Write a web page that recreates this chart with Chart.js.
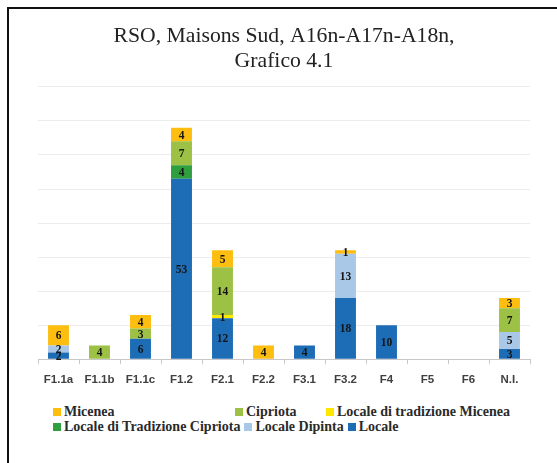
<!DOCTYPE html>
<html>
<head>
<meta charset="utf-8">
<script src="https://cdn.jsdelivr.net/npm/chart.js@4"></script>
<style>
  body { margin: 0; background: #fff; }
  #box {
    position: absolute; left: 7px; top: 7px; width: 550px; height: 456px;
    border-top: 2px solid #111; border-left: 2px solid #111;
  }
  #wrap { position: relative; width: 548px; height: 390px; }
  #legend {
    font: bold 14px "Liberation Serif", "Times New Roman", serif; color: #2a2a2a;
    padding-left: 44px; margin-top: 5px;
  }
  .row { display: flex; height: 15px; align-items: center; }
  .item { display: flex; align-items: center; white-space: nowrap; margin-right: 4px; }
  .sw { width: 8px; height: 8px; margin-right: 3px; }
</style>
</head>
<body>
<div id="box">
  <div id="wrap"><canvas id="grafico"></canvas></div>
  <div id="legend"></div>
</div>
<script>
const categorie = ['F1.1a', 'F1.1b', 'F1.1c', 'F1.2', 'F2.1', 'F2.2', 'F3.1', 'F3.2', 'F4', 'F5', 'F6', 'N.I.'];

// dal basso verso l'alto
const locale        = [2, 0, 6, 53, 12, 0, 4, 18, 10, 0, 0, 3];
const localeDipinta = [2, 0, 0, 0, 0, 0, 0, 13, 0, 0, 0, 5];
const tradCipriota  = [0, 0, 0, 4, 0, 0, 0, 0, 0, 0, 0, 0];
const tradMicenea   = [0, 0, 0, 0, 1, 0, 0, 0, 0, 0, 0, 0];
const cipriota      = [0, 4, 3, 7, 14, 0, 0, 0, 0, 0, 0, 7];
const micenea       = [6, 0, 4, 4, 5, 4, 0, 1, 0, 0, 0, 3];

const yMax = 80;
const yStep = 10;

const serie = [
  { label: 'Locale', data: locale, colore: '#1d6cb6' },
  { label: 'Locale Dipinta', data: localeDipinta, colore: '#a9c8e8' },
  { label: 'Locale di Tradizione Cipriota', data: tradCipriota, colore: '#2e9e3e' },
  { label: 'Locale di tradizione Micenea', data: tradMicenea, colore: '#ffe800' },
  { label: 'Cipriota', data: cipriota, colore: '#9dc145' },
  { label: 'Micenea', data: micenea, colore: '#fdbe10' }
];

// etichette dei valori al centro di ogni segmento
const etichette = {
  id: 'etichette',
  afterDatasetsDraw(chart) {
    const ctx = chart.ctx;
    ctx.save();
    ctx.font = 'bold 11.5px "Liberation Serif", serif';
    ctx.fillStyle = '#141414';
    ctx.textAlign = 'center';
    ctx.textBaseline = 'middle';
    chart.data.datasets.forEach((ds, i) => {
      const meta = chart.getDatasetMeta(i);
      meta.data.forEach((bar, j) => {
        const v = ds.data[j];
        if (!v) return;
        ctx.fillText(v, bar.x, (bar.y + bar.base) / 2 + 1);
      });
    });
    ctx.restore();
  }
};

const ctx = document.getElementById('grafico');
new Chart(ctx, {
  type: 'bar',
  data: {
    labels: categorie,
    datasets: serie.map(s => ({
      label: s.label,
      data: s.data,
      backgroundColor: s.colore,
      borderWidth: 0,
      barPercentage: 0.51,
      categoryPercentage: 1
    }))
  },
  options: {
    responsive: true,
    maintainAspectRatio: false,
    animation: false,
    layout: { padding: { left: 29, right: 27, top: 0, bottom: 3 } },
    plugins: {
      legend: { display: false },
      tooltip: { enabled: false },
      title: {
        display: true,
        text: ['RSO, Maisons Sud, A16n-A17n-A18n,', 'Grafico 4.1'],
        color: '#222',
        font: { family: '"Liberation Serif", "Times New Roman", serif', size: 21.7, weight: 'normal', lineHeight: 1.15 },
        padding: { top: 15, bottom: 13 }
      }
    },
    scales: {
      x: {
        stacked: true,
        grid: { drawOnChartArea: false, drawTicks: true, tickLength: 5, offset: true, color: '#c8c8c8' },
        border: { color: '#c8c8c8' },
        ticks: {
          color: '#404040',
          padding: 9,
          font: { family: '"Liberation Sans", Arial, sans-serif', size: 11.5, weight: 'bold' }
        }
      },
      y: {
        stacked: true,
        min: 0,
        max: yMax,
        ticks: { display: false, stepSize: yStep },
        grid: { color: '#ececec', drawTicks: false },
        border: { display: false }
      }
    }
  },
  plugins: [etichette]
});

// legenda in due righe come nell'originale
const righe = [
  ['Micenea', 'Cipriota', 'Locale di tradizione Micenea'],
  ['Locale di Tradizione Cipriota', 'Locale Dipinta', 'Locale']
];
const larghezze = [[182, 91, 0], [0, 0, 0]];
const leg = document.getElementById('legend');
righe.forEach((r, ri) => {
  const row = document.createElement('div');
  row.className = 'row';
  r.forEach((nome, k) => {
    const s = serie.find(x => x.label === nome);
    const it = document.createElement('div');
    it.className = 'item';
    if (larghezze[ri][k]) { it.style.width = larghezze[ri][k] + 'px'; it.style.marginRight = '0'; }
    it.innerHTML = '<span class="sw" style="background:' + s.colore + '"></span>' + nome;
    row.appendChild(it);
  });
  leg.appendChild(row);
});
</script>
</body>
</html>
